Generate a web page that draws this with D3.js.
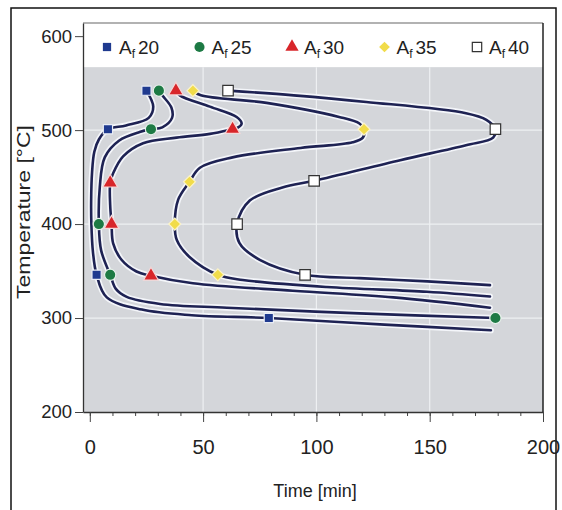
<!DOCTYPE html>
<html>
<head>
<meta charset="utf-8">
<script src="https://cdn.jsdelivr.net/npm/d3@7"></script>
<style>
  body { margin: 0; background: #fff; }
  svg { display: block; font-family: "Liberation Sans", Arial, Helvetica, sans-serif; }
</style>
</head>
<body>
<svg id="chart" width="562" height="510"></svg>
<script>
// legend labels (A_f values)
const seriesNames = ["20", "25", "30", "35", "40"];
const xTicks = [0, 50, 100, 150, 200];
const xMinor = d3.range(0, 201, 10);
const yTicks = [200, 300, 400, 500, 600];

// curves, [time min, temperature C]
const curve20 = [[25,542],[28,525],[26,513],[16,505],[8,501],[4,490],[2,477],[1,455],[0.6,425],[0.7,400],[1.4,370],[3,346],[7.5,322],[23,309],[45,303],[79,300],[130,293],[177,287]];
const curve25 = [[30.5,542],[32,537],[36,524],[36.3,513],[32,503],[27,501],[22,498],[13,489],[6.6,471],[4.4,439],[4,400],[5,372],[9,346],[11.5,331],[16.3,322.5],[31,315],[60.5,311],[119,305],[179,300]];
const curve30 = [[38,542],[39.7,537],[53,525],[64.8,514],[67,507],[64.8,502],[63,501],[53,496],[38.3,492],[23.5,486],[14.7,472],[10.3,454],[9,444],[9,420],[9.6,400],[10.3,379.5],[14,362],[20.6,349.5],[27,345],[45.5,337],[89.6,329],[134,322],[176.6,311]];
const curve35 = [[45.5,542],[49,537],[78,529],[110,514],[119,507],[121,501],[120.5,492],[116,487],[93,481],[63,471],[48.6,460],[44,445],[39,426],[37.5,400],[38.4,383],[44,365],[56.5,346],[67.5,340.5],[104.6,333],[148.8,328],[176.6,323]];
const curve40 = [[61,542],[90,537],[122,530],[166,518],[175,511],[179,501],[178,492],[166,484],[137,468],[99,446],[85,439],[70.6,425],[65,400],[66,380],[75,362],[95,346],[119,342.5],[149,339],[176.6,335]];

// marker positions
const marks20 = [[25,542],[8,501],[3,346],[79,300]];
const marks25 = [[30.5,542],[27,501],[4,400],[9,346],[179,300]];
const marks30 = [[38,542],[63,501],[9,444],[9.6,400],[27,345]];
const marks35 = [[45.5,542],[121,501],[44,445],[37.5,400],[56.5,346]];
const marks40 = [[61,542],[179,501],[99,446],[65,400],[95,346]];

const curves = [curve20, curve25, curve30, curve35, curve40];
const marks = [marks20, marks25, marks30, marks35, marks40];
const symbols = [d3.symbolSquare, d3.symbolCircle, d3.symbolTriangle, d3.symbolSquare, d3.symbolSquare];
const symRotate = [0, 0, 0, 45, 0];
const symSize = [85, 100, 95, 72, 110];
const fills = ["#1f3a8f", "#1d7a44", "#d8262a", "#f1dc4a", "#ffffff"];
const strokes = ["#e8ecf5", "#e6f0ea", "#f5d8d8", "#fbf3c8", "#333333"];

const svg = d3.select("#chart");

// outer frame
svg.append("rect")
  .attr("x", 11).attr("y", 8).attr("width", 545).attr("height", 520)
  .attr("fill", "none").attr("stroke", "#111").attr("stroke-width", 1.5);

const pLeft = 83, pRight = 543, pTop = 23, pBottom = 412;
const x = d3.scaleLinear().domain([-3, 200]).range([pLeft, pRight]);
const y = d3.scaleLinear().domain([200, 614]).range([pBottom, pTop]);

// plot background: white legend band then gray field
svg.append("rect")
  .attr("x", pLeft).attr("y", pTop).attr("width", pRight - pLeft).attr("height", pBottom - pTop)
  .attr("fill", "#ffffff");
svg.append("rect")
  .attr("x", pLeft).attr("y", y(567)).attr("width", pRight - pLeft).attr("height", pBottom - y(567))
  .attr("fill", "#d4d6da");

// grid
svg.append("g").selectAll("line")
  .data(xTicks.slice(1, -1))
  .enter().append("line")
  .attr("x1", d => x(d)).attr("x2", d => x(d))
  .attr("y1", y(567)).attr("y2", pBottom)
  .attr("stroke", "#eef0f2").attr("stroke-width", 1.2);
svg.append("g").selectAll("line")
  .data(yTicks.slice(1, -1))
  .enter().append("line")
  .attr("x1", pLeft).attr("x2", pRight)
  .attr("y1", d => y(d)).attr("y2", d => y(d))
  .attr("stroke", "#eef0f2").attr("stroke-width", 1.2);

// curves
const line = d3.line()
  .x(d => x(d[0])).y(d => y(d[1]))
  .curve(d3.curveCatmullRom.alpha(0.5));

curves.forEach(c => {
  svg.append("path").attr("d", line(c))
    .attr("fill", "none").attr("stroke", "#f4f6fa").attr("stroke-width", 6)
    .attr("stroke-linecap", "round");
  svg.append("path").attr("d", line(c))
    .attr("fill", "none").attr("stroke", "#1e2253").attr("stroke-width", 2.6)
    .attr("stroke-linecap", "round");
});

// markers
marks.forEach((m, i) => {
  svg.append("g").selectAll("path")
    .data(m)
    .enter().append("path")
    .attr("transform", d => `translate(${x(d[0])},${y(d[1])}) rotate(${symRotate[i]})`)
    .attr("d", d3.symbol().type(symbols[i]).size(symSize[i]))
    .attr("fill", fills[i])
    .attr("stroke", strokes[i])
    .attr("stroke-width", 1.2);
});

// frame lines top / right
svg.append("line").attr("x1", pLeft).attr("x2", pRight).attr("y1", pTop).attr("y2", pTop)
  .attr("stroke", "#666").attr("stroke-width", 1.2);
svg.append("line").attr("x1", pRight).attr("x2", pRight).attr("y1", pTop).attr("y2", pBottom)
  .attr("stroke", "#222").attr("stroke-width", 1.5);

// axes
const yAxis = svg.append("g")
  .attr("transform", `translate(${pLeft},0)`)
  .call(d3.axisLeft(y).tickValues(yTicks).tickSize(8).tickSizeOuter(0).tickPadding(3));
yAxis.select(".domain").attr("stroke", "#333").attr("stroke-width", 1.3);
yAxis.selectAll(".tick line").attr("stroke", "#444");
yAxis.selectAll("text").attr("font-size", 18.5).attr("fill", "#222")
  .attr("font-family", "'Liberation Sans', Arial, sans-serif");

const xMinorAxis = svg.append("g")
  .attr("transform", `translate(0,${pBottom})`)
  .call(d3.axisBottom(x).tickValues(xMinor).tickSize(4).tickSizeOuter(0).tickFormat(""));
xMinorAxis.select(".domain").remove();
xMinorAxis.selectAll(".tick line").attr("stroke", "#444");

const xAxis = svg.append("g")
  .attr("transform", `translate(0,${pBottom})`)
  .call(d3.axisBottom(x).tickValues(xTicks).tickSize(10).tickSizeOuter(0).tickPadding(18));
xAxis.select(".domain").attr("stroke", "#333").attr("stroke-width", 1.3);
xAxis.selectAll(".tick line").attr("stroke", "#444");
xAxis.selectAll("text").attr("font-size", 20).attr("fill", "#222")
  .attr("font-family", "'Liberation Sans', Arial, sans-serif");

// axis titles
svg.append("text")
  .attr("x", 315).attr("y", 497)
  .attr("text-anchor", "middle").attr("font-size", 18).attr("fill", "#222")
  .text("Time [min]");
svg.append("text")
  .attr("transform", "translate(30,212) rotate(-90)")
  .attr("text-anchor", "middle").attr("font-size", 19).attr("fill", "#222")
  .attr("textLength", 174).attr("lengthAdjust", "spacingAndGlyphs")
  .text("Temperature [°C]");

// legend
const legend = svg.append("g");
seriesNames.forEach((name, i) => {
  const lx = 107 + i * 92.5, ly = 47;
  legend.append("path")
    .attr("transform", `translate(${lx},${ly}) rotate(${symRotate[i]})`)
    .attr("d", d3.symbol().type(symbols[i]).size(symSize[i] * 0.8))
    .attr("fill", fills[i])
    .attr("stroke", i === 4 ? "#333" : "none")
    .attr("stroke-width", 1.2);
  const t = legend.append("text")
    .attr("x", lx + 12).attr("y", ly + 7)
    .attr("font-size", 19).attr("fill", "#222");
  t.append("tspan").text("A");
  t.append("tspan").attr("font-size", 12).attr("dy", 4).text("f");
  t.append("tspan").attr("dy", -4).attr("dx", 3).text(name);
});
</script>
</body>
</html>
